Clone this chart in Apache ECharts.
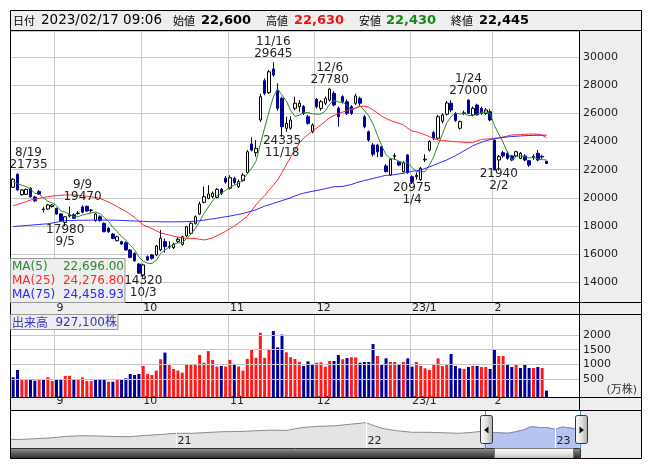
<!DOCTYPE html>
<html><head><meta charset="utf-8">
<script src="https://cdn.jsdelivr.net/npm/echarts@6/dist/echarts.min.js"></script>
<style>html,body{margin:0;padding:0;background:#fff;}#c{width:653px;height:470px;}</style>
</head><body><div id="c"></div>
<script>
// ---------------- data ----------------
const dates = ['8/18','8/19','8/22','8/23','8/24','8/25','8/26','8/29','8/30','8/31',
'9/1','9/2','9/5','9/6','9/7','9/8','9/9','9/12','9/13','9/14','9/15','9/16','9/20','9/21','9/22','9/26','9/27','9/28','9/29','9/30',
'10/3','10/4','10/5','10/6','10/7','10/11','10/12','10/13','10/14','10/17','10/18','10/19','10/20','10/21','10/24','10/25','10/26','10/27','10/28','10/31',
'11/1','11/2','11/4','11/7','11/8','11/9','11/10','11/11','11/14','11/15','11/16','11/17','11/18','11/21','11/22','11/24','11/25','11/28','11/29','11/30',
'12/1','12/2','12/5','12/6','12/7','12/8','12/9','12/12','12/13','12/14','12/15','12/16','12/19','12/20','12/21','12/22','12/23','12/26','12/27','12/28','12/29','12/30',
'1/4','1/5','1/6','1/10','1/11','1/12','1/13','1/16','1/17','1/18','1/19','1/20','1/23','1/24','1/25','1/26','1/27','1/30','1/31',
'2/1','2/2','2/3','2/6','2/7','2/8','2/9','2/10','2/13','2/14','2/15','2/16','2/17'];

const opens = [20750,21680,20230,20250,20680,20050,20450,19200,19200,19380,
19250,18850,18250,18700,18800,18880,19350,19400,19100,18380,
18650,18180,17830,17420,16950,16880,16800,16290,16050,15290,
14510,15810,15930,15930,16290,16880,16500,16450,16900,16690,
17300,17470,18180,18850,19680,19960,20080,20030,20600,21390,
20680,21390,20790,21220,21790,23830,23210,25540,28330,27480,
29170,27670,27080,24950,24950,26370,26490,26490,25770,24700,
27010,26370,26730,26960,27440,26370,27200,26840,26490,26730,
27080,25770,24700,23760,23760,23640,22270,21620,22950,22570,
21860,23050,21500,21500,21300,22700,23400,24640,24240,25450,
25950,26730,26000,24950,26000,26960,25900,26600,26370,26010,
26130,24110,22690,23210,23170,22980,22980,22810,22980,22640,
22850,23170,22950,22600];

const highs = [21400,21735,20600,20650,20750,20150,20550,19370,19550,19550,
19300,18900,18700,19370,18900,19050,19470,19440,19200,18900,
18750,18250,17900,17500,17300,16950,16900,16350,16100,15350,
15300,15900,16000,16650,17710,17100,16900,16800,17200,17300,
18000,18300,18750,19720,20800,20900,20450,20700,20700,21550,
21600,21500,21300,21750,23400,24310,24110,27400,28500,29100,
29645,28150,27200,25770,25800,27200,26960,26600,25900,25300,
27100,26950,27200,27780,27600,26500,27300,27000,26600,27400,
27200,25900,24800,23900,23850,23700,22400,22800,23170,22650,
22600,23100,21600,21800,22200,23100,24100,24750,25900,26000,
26900,26950,26100,25500,26200,27000,26500,26700,26500,26400,
26300,24150,23050,23350,23300,23050,23350,23250,23100,22700,
23100,23400,23050,22630];

const lows = [20700,20500,20150,20200,20000,19700,20200,18950,19150,19300,
18800,18300,17980,18600,18500,18800,18900,19000,18950,18300,
18300,17550,17500,17050,16900,16650,16250,15700,15450,14600,
14320,15500,15600,15850,16200,16100,16350,16350,16800,16600,
17200,17400,18100,18800,19600,19900,19950,19950,20200,21000,
20600,20950,20700,21150,21700,23300,22930,25400,27300,27400,
28600,26200,24335,24700,24850,26250,26130,25900,25200,24590,
26350,26200,26600,26850,26500,25060,26700,25900,25900,26600,
26500,24950,24000,22950,22900,22900,21800,21550,22700,22250,
21800,21700,20975,21300,21200,22550,23300,24100,24150,25300,
25850,26100,25400,24850,25900,25950,25800,25850,25900,25900,
25450,21960,21940,22850,22700,22600,22900,22750,22600,22200,
22700,22600,22750,22430];

const closes = [21320,20560,20560,20600,20080,19780,20260,19150,19490,19490,
18850,18380,18650,18780,18550,18920,18970,19060,19130,18850,
18380,17590,17590,17110,17230,16710,16290,15760,15520,14630,
15220,15570,15690,16570,17120,16530,16550,16700,17050,17230,
17940,18180,18650,19560,20080,20270,20320,20600,20320,21120,
21430,21080,21150,21620,23280,23400,23520,27200,27440,28970,
28740,26370,25060,25300,25540,26730,26730,26010,25300,25180,
26490,26840,27080,27740,26610,25770,26840,26010,26010,27250,
26730,25060,24110,23100,23280,22950,21860,22740,23000,22330,
22500,21790,21150,21600,22100,22750,24000,24240,25770,25900,
26750,26250,25500,25420,26050,26010,26370,25900,26010,26250,
25540,21980,22930,22980,22810,22690,23280,23170,22690,22330,
22950,22690,22900,22445];

// volume in 10,000 shares (万株)
const volumes = [550,800,460,480,480,435,490,460,550,420,
460,460,600,600,460,490,550,420,420,490,
490,490,400,400,460,460,515,665,630,665,
940,665,630,780,1170,1400,1010,835,780,710,
1010,1010,1010,1320,1050,1450,1150,920,940,920,
1150,1010,920,780,1180,1490,1220,2080,1220,1490,
2140,1580,2020,1410,1240,1180,1080,940,1100,975,
1050,1065,916,1110,1110,1316,1168,1213,1236,1236,
1053,1076,1076,1694,1282,1007,1202,1076,1076,1007,
1076,1202,916,1076,939,859,802,1007,1202,939,
973,1350,939,859,836,904,939,939,904,904,
836,1522,1282,1282,973,904,973,870,973,870,
870,904,870,92.71];

const ma5 = [21150,21000,20900,20800,20624,20316,20256,19974,19752,19634,
19448,19072,18972,18830,18642,18656,18774,18856,18926,18986,
18878,18602,18308,17904,17580,17246,16986,16620,16302,15782,
15484,15340,15326,15536,16034,16296,16492,16694,16790,16812,
17094,17420,17810,18312,18882,19348,19776,20166,20318,20526,
20758,20910,21020,21280,21712,22106,22594,23804,24968,26106,
27174,27744,27316,26888,26202,25800,25872,26062,26062,25990,
25942,25964,26178,26666,26952,26808,26808,26594,26248,26376,
26568,26212,25832,25250,24456,23700,23060,22786,22766,22576,
22486,22472,22154,21874,21828,21878,22320,22938,23772,24532,
25332,25782,26034,25964,25994,25846,25870,25950,26068,26108,
26014,25136,24542,23936,23248,22678,22938,22986,22928,22832,
22884,22766,22712,22696];

const ma25 = [19420,19530,19620,19730,19840,19900,19960,20020,20080,20120,
20150,20180,20200,20200,20200,20180,20150,20110,20070,20020,
19960,19830,19700,19540,19370,19200,19030,18830,18600,18330,
18060,17930,17800,17650,17500,17420,17350,17270,17200,17150,
17120,17110,17100,17050,17000,17060,17150,17300,17450,17620,
17800,18000,18200,18450,18700,19100,19500,19850,20150,20550,
20900,21270,21800,22350,22900,23400,23900,24250,24500,24750,
24950,25200,25450,25700,25850,26000,26100,26200,26300,26400,
26500,26520,26450,26250,26050,25800,25650,25500,25400,25300,
25200,24950,24750,24700,24600,24480,24350,24230,24110,24080,
24050,24020,23990,23970,23950,23930,23920,24050,24150,24180,
24200,24230,24260,24330,24400,24470,24480,24500,24520,24540,
24540,24520,24460,24277];

const ma75 = [17950,17980,18000,18030,18050,18080,18100,18130,18150,18200,
18260,18320,18370,18380,18390,18400,18400,18410,18410,18420,
18420,18420,18410,18410,18400,18390,18380,18360,18350,18340,
18320,18310,18300,18300,18290,18290,18290,18290,18290,18300,
18300,18320,18340,18370,18410,18460,18500,18550,18600,18650,
18700,18760,18820,18880,18970,19060,19150,19280,19400,19500,
19600,19700,19800,19900,20000,20130,20250,20330,20400,20460,
20520,20580,20650,20720,20790,20800,20810,20880,20950,21050,
21150,21230,21300,21380,21450,21530,21600,21620,21650,21700,
21750,21810,21880,21930,21980,22090,22200,22320,22450,22570,
22690,22850,23000,23170,23350,23520,23700,23830,23950,24050,
24150,24210,24260,24300,24330,24360,24380,24400,24420,24430,
24440,24450,24455,24459];

// local high / low annotations
const annDates  = ['8/19','9/5','9/9','10/3','11/16','11/18','12/6','1/4','1/24','2/2'];
const annValues = [21735,17980,19470,14320,29645,24335,27780,20975,27000,21940];
const annKinds  = ['high','low','high','low','high','low','high','low','high','low'];

// axis tick labels
const priceTickLabels = [14000,16000,18000,20000,22000,24000,26000,28000,30000];
const volTickLabels = [500,1000,1500,2000];

// header quote
const quoteTime = '2023/02/17 09:06';
const quoteOpen = '22,600', quoteHigh = '22,630', quoteLow = '22,430', quoteClose = '22,445';
const maLegendNames = ['MA(5)','MA(25)','MA(75)'];
const maLegendValues = ['22,696.00','24,276.80','24,458.93'];
const volLegendValue = '927,100株';

// navigator (long-term overview)
const navDates = ['2020-02-17','2020-03-01','2020-04-01','2020-05-01','2020-06-01','2020-07-01','2020-08-01','2020-09-01','2020-10-01','2020-11-01','2020-12-01',
'2021-01-01','2021-02-01','2021-03-01','2021-04-01','2021-05-01','2021-06-01','2021-07-01','2021-08-01','2021-09-01','2021-10-01','2021-11-01','2021-12-01',
'2022-01-01','2022-02-01','2022-03-01','2022-04-01','2022-05-01','2022-06-01','2022-07-01','2022-08-01','2022-08-18','2022-09-01','2022-09-15','2022-10-01','2022-10-15','2022-11-01','2022-11-15','2022-12-01','2022-12-15',
'2023-01-01','2023-01-15','2023-02-01','2023-02-17'];
const navValues = [7880,7730,8260,9000,10420,11270,10940,10420,10200,11500,12690,
14320,14320,15500,16800,17100,18330,19500,19100,25530,28660,30080,35000,
41200,23300,18560,15830,15830,15050,14320,16300,18560,15830,15050,14320,16300,19900,27650,25530,25530,
21210,26820,23750,21210];
const navYearDates = ['2021-01-01','2022-01-01','2023-01-01'];
const navYearLabels = ['21','22','23'];
const navSelStart = '2022-08-18', navSelEnd = '2023-02-17', navEnd = '2023-02-18';

// ---------------- chart ----------------
const SLOT_COUNT = 131;
const GRID = '#c8c8c8';
const UP_VOL = '#ff1a1a', DOWN = '#000099';
const FONT = '"DejaVu Sans", "Noto Sans CJK JP"';
const CJK = '"Noto Sans CJK JP", "DejaVu Sans"';
const ts = d => +new Date(d);

const monthOf = s => s.split('/')[0];
const isMonthStart = (i) => i > 0 && i < dates.length && monthOf(dates[i]) !== monthOf(dates[i - 1]);
const monthText = (i) => { const m = monthOf(dates[i]); return m === '1' ? '23/' + m : m; };
const monthLabel = (v, i) => isMonthStart(i) ? monthText(i) : '';

const candleData = opens.map((o, i) => [o, closes[i], lows[i], highs[i]]);
const volData = volumes.map((v, i) => {
  const up = i > 0 && closes[i] >= closes[i - 1];
  return { value: v, itemStyle: { color: up ? UP_VOL : DOWN } };
});
const annOffsets = { '8/19': [11, 0] };
const annData = annDates.map((d, i) => {
  const hi = annKinds[i] === 'high';
  const text = hi ? d + '\n' + annValues[i] : annValues[i] + '\n' + d;
  const off = annOffsets[d] || [0, 0];
  return {
    value: [dates.indexOf(d), annValues[i]],
    label: { show: true, formatter: text, position: hi ? 'top' : 'bottom', distance: hi ? 2 : 0,
      offset: [off[0], off[1] + (hi ? 0 : -3)] }
  };
});
const navData = navDates.map((d, i) => [ts(d), navValues[i]]);
const navSel = navData.filter(p => p[0] >= ts(navSelStart));

const catAxis = (gi, showLabels) => ({
  type: 'category', gridIndex: gi, data: dates, max: SLOT_COUNT - 1, boundaryGap: true,
  axisLine: { show: false }, axisTick: { show: false },
  axisLabel: { show: showLabels, interval: (i) => isMonthStart(i), formatter: monthLabel, align: 'left',
    margin: -1, showMinLabel: true, showMaxLabel: true, hideOverlap: false,
    fontSize: 11, color: '#222', fontFamily: FONT },
  splitLine: { show: true, interval: (i) => isMonthStart(i), lineStyle: { color: GRID, width: 1 } }
});

function txt(id, x, y, text, font, fill, align, z) {
  return { id, type: 'text', x, y, z: z || 100, silent: true,
    style: { text, font, fill, align: align || 'left', verticalAlign: 'middle' } };
}
function hline(id, x1, x2, y, color) {
  return { id, type: 'line', z: 90, silent: true, shape: { x1, y1: y, x2, y2: y }, style: { stroke: color || '#000', lineWidth: 1 } };
}
function vline(id, x, y1, y2, color, z) {
  return { id, type: 'line', z: z || 90, silent: true, shape: { x1: x, y1, x2: x, y2 }, style: { stroke: color || '#000', lineWidth: 1 } };
}
function rect(id, x, y, w, h, fill, stroke, z) {
  return { id, type: 'rect', z: z == null ? -10 : z, silent: true, shape: { x, y, width: w, height: h },
    style: { fill, stroke: stroke || null, lineWidth: 1 } };
}

const hdrFont = '13.5px ' + FONT, hdrBold = 'bold 13px ' + FONT, hdrCjk = '11px ' + CJK;
const maColors = ['#2a8a2a', '#ff2a2a', '#2a2aff'];
const legFont = '12px ' + FONT;

const staticGraphics = [
  rect('bg', 10.5, 10.5, 631, 448, '#eeeeee', null, -10),
  rect('pw', 11, 31, 568, 271, '#ffffff', null, -9),
  rect('vw', 11, 315, 568, 82, '#ffffff', null, -9),
  rect('nw', 11, 411, 569, 37, '#ffffff', null, -9),
  { id: 'frame', type: 'rect', z: 95, silent: true, shape: { x: 10.5, y: 10.5, width: 631, height: 448 }, style: { fill: null, stroke: '#000', lineWidth: 1 } },
  hline('s1', 10.5, 641.5, 30.5), hline('s2', 10.5, 641.5, 302.5), hline('s3', 10.5, 641.5, 314.5),
  hline('s4', 10.5, 641.5, 397.5), hline('s5', 10.5, 641.5, 410.5),
  vline('s6', 579.5, 30.5, 410.5),
  // header
  txt('h1', 13, 20.5, '日付', hdrCjk, '#000'),
  txt('h2', 41, 20.5, quoteTime, hdrFont, '#000'),
  txt('h3', 173, 20.5, '始値', hdrCjk, '#000'),
  txt('h4', 201, 20.5, quoteOpen, hdrBold, '#000'),
  txt('h5', 266, 20.5, '高値', hdrCjk, '#000'),
  txt('h6', 294, 20.5, quoteHigh, hdrBold, '#ee1111'),
  txt('h7', 359, 20.5, '安値', hdrCjk, '#000'),
  txt('h8', 386, 20.5, quoteLow, hdrBold, '#138a13'),
  txt('h9', 451, 20.5, '終値', hdrCjk, '#000'),
  txt('h10', 479, 20.5, quoteClose, hdrBold, '#000'),
  // MA legend
  { id: 'maBox', type: 'rect', z: 98, silent: true, shape: { x: 10.5, y: 258.5, width: 114.5, height: 44 }, style: { fill: '#eeeeee', stroke: '#999', lineWidth: 1 } },
  txt('ma1', 12, 266.5, maLegendNames[0], legFont, maColors[0]),
  txt('ma2', 12, 280.5, maLegendNames[1], legFont, maColors[1]),
  txt('ma3', 12, 294.5, maLegendNames[2], legFont, maColors[2]),
  txt('mv1', 124, 266.5, maLegendValues[0], legFont, maColors[0], 'right'),
  txt('mv2', 124, 280.5, maLegendValues[1], legFont, maColors[1], 'right'),
  txt('mv3', 124, 294.5, maLegendValues[2], legFont, maColors[2], 'right'),
  // volume legend
  { id: 'vBox', type: 'rect', z: 98, silent: true, shape: { x: 10.5, y: 314.5, width: 107.5, height: 15 }, style: { fill: '#eeeeee', stroke: '#999', lineWidth: 1 } },
  txt('vl1', 12, 322.5, '出来高', '12px ' + CJK, '#3535c0'),
  txt('vl2', 117, 322.5, volLegendValue, '12px ' + FONT, '#3535c0', 'right'),
  txt('vunit', 637, 390, '(万株)', '11px ' + FONT, '#333', 'right')
];

const option = {
  animation: false,
  textStyle: { fontFamily: FONT },
  grid: [
    { left: 11, top: 31, width: 568, height: 271, show: false },
    { left: 11, top: 315, width: 568, height: 82, show: false },
    { left: 11, top: 411, width: 569, height: 37, show: false }
  ],
  xAxis: [
    catAxis(0, false),
    catAxis(1, true),
    { type: 'time', gridIndex: 2, min: ts(navDates[0]), max: ts(navEnd), show: false }
  ],
  yAxis: [
    { type: 'value', gridIndex: 0, position: 'right', min: 12584, max: 31872, splitNumber: 10,
      minInterval: 2000, maxInterval: 2000,
      axisLine: { show: false }, axisTick: { show: false },
      axisLabel: { margin: 4, fontSize: 11, color: '#222', fontFamily: FONT,
        formatter: v => priceTickLabels.includes(v) ? String(v) : '' },
      splitLine: { show: true, lineStyle: { color: GRID } } },
    { type: 'value', gridIndex: 1, position: 'right', min: -127, max: 2691, startValue: -127, splitNumber: 5,
      minInterval: 500, maxInterval: 500,
      axisLine: { show: false }, axisTick: { show: false },
      axisLabel: { margin: 4, fontSize: 11, color: '#222', fontFamily: FONT,
        formatter: v => volTickLabels.includes(v) ? String(v) : '' },
      splitLine: { show: false } },
    { type: 'log', gridIndex: 2, min: 3310, max: 132000, show: false }
  ],
  series: [
    { type: 'candlestick', name: 'price', xAxisIndex: 0, yAxisIndex: 0, data: candleData, barWidth: 3, z: 2,
      itemStyle: { color: '#ffffff', color0: DOWN, borderColor: '#000000', borderColor0: DOWN, borderColorDoji: '#000000', borderWidth: 1 } },
    { type: 'line', name: 'MA5', xAxisIndex: 0, yAxisIndex: 0, data: ma5, symbol: 'none', z: 3,
      lineStyle: { color: maColors[0], width: 1 } },
    { type: 'line', name: 'MA25', xAxisIndex: 0, yAxisIndex: 0, data: ma25, symbol: 'none', z: 3,
      lineStyle: { color: maColors[1], width: 1 } },
    { type: 'line', name: 'MA75', xAxisIndex: 0, yAxisIndex: 0, data: ma75, symbol: 'none', z: 3,
      lineStyle: { color: maColors[2], width: 1 } },
    { type: 'scatter', name: 'ann', xAxisIndex: 0, yAxisIndex: 0, data: annData, symbol: 'circle', symbolSize: 1, z: 4,
      itemStyle: { color: 'rgba(0,0,0,0)' },
      label: { show: true, fontSize: 12, lineHeight: 12, color: '#222', fontFamily: FONT, opacity: 1 } },
    { type: 'line', name: 'volGrid', xAxisIndex: 1, yAxisIndex: 1, data: dates.map(() => null), symbol: 'none', z: 1,
      markLine: { silent: true, symbol: ['none', 'none'], label: { show: false },
        lineStyle: { color: GRID, type: 'solid', width: 1 },
        data: volTickLabels.map(v => ({ yAxis: v })) } },
    { type: 'bar', name: 'volume', xAxisIndex: 1, yAxisIndex: 1, data: volData, barWidth: 3, z: 2 },
    { type: 'line', name: 'nav', xAxisIndex: 2, yAxisIndex: 2, data: navData, symbol: 'none', z: 2,
      lineStyle: { color: '#8c8c8c', width: 1 }, areaStyle: { color: '#e4e4e4', origin: 'start', opacity: 1 } },
    { type: 'line', name: 'navSel', xAxisIndex: 2, yAxisIndex: 2, data: navSel, symbol: 'none', z: 3,
      lineStyle: { color: '#8a8aa8', width: 1 }, areaStyle: { color: '#b6c4f2', origin: 'start', opacity: 1 } }
  ],
  graphic: { elements: staticGraphics }
};

const chart = echarts.init(document.getElementById('c'), null, { renderer: 'canvas' });
chart.setOption(option);

const extra = [];
// month labels in the band under the price panel, placed with the volume panel's category scale
// (same slots as the price panel), drawn on their own top layer
dates.forEach((d, i) => {
  if (!isMonthStart(i)) return;
  const x = chart.convertToPixel({ xAxisIndex: 1 }, i);
  const el = txt('upperMonthLabel' + i, x, 308, monthText(i), '11px ' + FONT, '#222', 'left', 300);
  el.zlevel = 1;
  extra.push(el);
});

// navigator decorations positioned through the navigator's own scales
const navPx = d => chart.convertToPixel({ gridIndex: 2 }, [ts(d), 10000])[0];
navYearDates.forEach((d, i) => {
  const x = Math.round(navPx(d)) + 0.5;
  extra.push(vline('ny' + i, x, 411, 448, '#ffffff', 5));
  extra.push(txt('nyl' + i, x + 1, 441.5, navYearLabels[i], '11px ' + FONT, '#222'));
});
const x0 = Math.round(navPx(navSelStart)) + 0.5;
const x1 = Math.round(navPx(navSelEnd)) + 1.5;
const metal = (c1, c2, c3) => ({ type: 'linear', x: 0, y: 0, x2: 0, y2: 1,
  colorStops: [{ offset: 0, color: c1 }, { offset: 0.5, color: c2 }, { offset: 1, color: c3 }] });
const metalH = (c1, c2, c3) => ({ type: 'linear', x: 0, y: 0, x2: 1, y2: 0,
  colorStops: [{ offset: 0, color: c1 }, { offset: 0.5, color: c2 }, { offset: 1, color: c3 }] });
extra.push({ id: 'track', type: 'rect', z: 92, silent: true, shape: { x: 10.5, y: 448.5, width: x1 - 10.5, height: 10 },
  style: { fill: metal('#9a9a9a', '#5a5a5a', '#2a2a2a'), stroke: '#333', lineWidth: 1 } });
extra.push({ id: 'thumb', type: 'rect', z: 93, silent: true, shape: { x: x0 + 9, y: 448.5, width: (x1 - 7) - (x0 + 9), height: 10 },
  style: { fill: metal('#ffffff', '#e6e6e6', '#b8b8b8'), stroke: '#777', lineWidth: 1 } });
extra.push(vline('sl0', x0, 411, 449, '#2aa0c8', 94));
extra.push(vline('sl1', x1, 411, 449, '#2aa0c8', 94));
[x0, x1].forEach((cx, k) => {
  extra.push({ id: 'hd' + k, type: 'rect', z: 96, silent: true,
    shape: { x: Math.round(cx - 6) + 0.5, y: 415.5, width: 12, height: 28, r: 2 },
    style: { fill: metalH('#fdfdfd', '#e2e2e2', '#a8a8a8'), stroke: '#333', lineWidth: 1 } });
  const c = Math.round(cx) + 0.5;
  const pts = k === 0 ? [[c - 2.5, 430], [c + 2, 426.5], [c + 2, 433.5]] : [[c + 2.5, 430], [c - 2, 426.5], [c - 2, 433.5]];
  extra.push({ id: 'ht' + k, type: 'polygon', z: 97, silent: true, shape: { points: pts }, style: { fill: '#111' } });
});
chart.setOption({ graphic: { elements: extra } });
</script>
</body></html>
